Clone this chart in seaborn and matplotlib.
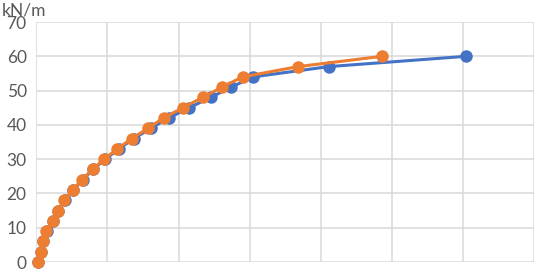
import pandas as pd
import seaborn as sns
import matplotlib
matplotlib.use("Agg")
import matplotlib.pyplot as plt

# load steps (kN/m) and displacement readings (grid units) for two series
load = [0, 3, 6, 9, 12, 15, 18, 21, 24, 27, 30, 33, 36, 39, 42, 45, 48, 51, 54, 57, 60]
disp_blue = [0.02, 0.06, 0.10, 0.15, 0.23, 0.31, 0.40, 0.52, 0.65, 0.80, 0.97, 1.16, 1.37,
             1.61, 1.86, 2.15, 2.45, 2.74, 3.05, 4.11, 6.04]
disp_orange = [0.02, 0.06, 0.10, 0.14, 0.23, 0.30, 0.39, 0.51, 0.64, 0.79, 0.95, 1.14, 1.34,
               1.57, 1.79, 2.06, 2.34, 2.61, 2.90, 3.68, 4.86]

df = pd.concat([
    pd.DataFrame({"disp": disp_blue, "load": load, "series": "A"}),
    pd.DataFrame({"disp": disp_orange, "load": load, "series": "B"}),
])

sns.set_theme(style="whitegrid")
plt.rcParams["font.family"] = ["Lato", "DejaVu Sans"]

fig = plt.figure(figsize=(5.35, 2.69), dpi=100)
ax = fig.add_axes([0.068, 0.026, 0.93, 0.892])

sns.lineplot(data=df, x="disp", y="load", hue="series", sort=False,
             palette=["#4472C4", "#ED7D31"], marker="o", markersize=9,
             markeredgewidth=0, linewidth=2.2, legend=False, ax=ax)

ax.set_xlim(0, 7)
ax.set_ylim(0, 70)
ax.set_xticks(range(0, 8))
ax.set_xticklabels([])
ax.set_yticks(range(0, 71, 10))
ax.tick_params(axis="y", length=0, pad=7, labelsize=12.5, labelcolor="#595959")
ax.tick_params(axis="x", length=0)
ax.grid(True, color="#D9D9D9", linewidth=1.1)
for s in ax.spines.values():
    s.set_visible(False)
ax.set_xlabel("")
ax.set_ylabel("")
ax.set_axisbelow(True)
for line in ax.lines:
    line.set_clip_on(False)

fig.text(2 / 535, 1 - 10 / 269, "kN/m", fontsize=12.5, color="#595959", va="center", ha="left")

fig.savefig("out.png", dpi=100)
